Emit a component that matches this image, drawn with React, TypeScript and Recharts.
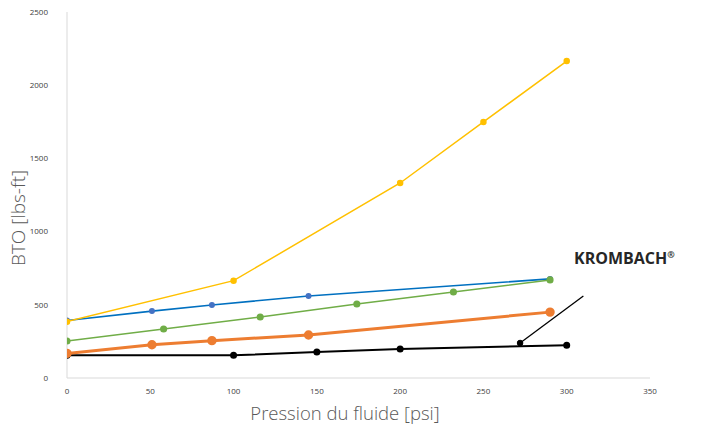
import React from "react";
import { LineChart, Line, XAxis, YAxis, ReferenceLine, ReferenceDot, Label } from "recharts";

const xTicks = [0, 50, 100, 150, 200, 250, 300, 350];
const yTicks = [0, 500, 1000, 1500, 2000, 2500];

const xYellow = [0, 100, 200, 250, 300];
const yYellow = [385, 665, 1332, 1749, 2165];
const xBlue = [0, 51, 87, 145, 290];
const yBlue = [393, 457, 499, 560, 677];
const xGreen = [0, 58, 116, 174, 232, 290];
const yGreen = [253, 335, 417, 505, 587, 670];
const xOrange = [0, 51, 87, 145, 290];
const yOrange = [168, 227, 255, 294, 450];
const xBlack = [0, 100, 150, 200, 300];
const yBlack = [155, 155, 178, 198, 224];

const brandLabel = "KROMBACH";
const pointerStart = { x: 272, y: 239 };
const pointerEnd = { x: 310, y: 560 };

const zip = (xs: number[], ys: number[]) => xs.map((x, i) => ({ x, y: ys[i] }));

const FONT = "'Open Sans', 'Noto Sans', sans-serif";

export default function App() {
  return (
    <div style={{ position: "absolute", left: 0, top: 0, width: 706, height: 427, background: "#fff" }}>
      <LineChart width={706} height={427} margin={{ top: 12, right: 56, bottom: 0, left: 0 }}>
        <XAxis
          type="number"
          dataKey="x"
          domain={[0, 350]}
          ticks={xTicks}
          allowDataOverflow
          height={49}
          tickLine={false}
          tickSize={0}
          tickMargin={10}
          axisLine={{ stroke: "#d9d9d9", strokeWidth: 1 }}
          tick={{ fontSize: 8, fill: "#404040", fontFamily: FONT }}
        >
          <Label
            content={() => (
              <text x={345} y={420} textAnchor="middle" fontSize={18.5} fill="#595959" fontFamily={FONT} fontWeight={300}>
                Pression du fluide [psi]
              </text>
            )}
          />
        </XAxis>
        <YAxis
          type="number"
          domain={[0, 2500]}
          ticks={yTicks}
          width={67}
          tickLine={false}
          tickSize={0}
          tickMargin={19}
          axisLine={{ stroke: "#d9d9d9", strokeWidth: 1 }}
          tick={{ fontSize: 8, fill: "#404040", fontFamily: FONT }}
        >
          <Label
            content={() => (
              <text
                x={18}
                y={218}
                transform="rotate(-90 18 218)"
                textAnchor="middle"
                dominantBaseline="central"
                fontSize={19}
                fill="#595959"
                fontFamily={FONT}
                fontWeight={300}
              >
                BTO [lbs-ft]
              </text>
            )}
          />
        </YAxis>
        <Line data={zip(xBlack, yBlack)} dataKey="y" stroke="#000000" strokeWidth={2} dot={{ r: 2.5, fill: "#000", stroke: "#000" }} isAnimationActive={false} />
        <Line data={zip(xOrange, yOrange)} dataKey="y" stroke="#ED7D31" strokeWidth={3} dot={{ r: 3.2, fill: "#ED7D31", stroke: "#ED7D31" }} isAnimationActive={false} />
        <Line data={zip(xBlue, yBlue)} dataKey="y" stroke="#0070C0" strokeWidth={1.6} dot={{ r: 2.2, fill: "#4472C4", stroke: "#4472C4" }} isAnimationActive={false} />
        <Line data={zip(xGreen, yGreen)} dataKey="y" stroke="#70AD47" strokeWidth={1.5} dot={{ r: 2.8, fill: "#70AD47", stroke: "#70AD47" }} isAnimationActive={false} />
        <Line data={zip(xYellow, yYellow)} dataKey="y" stroke="#FFC000" strokeWidth={1.5} dot={{ r: 2.5, fill: "#FFC000", stroke: "#FFC000" }} isAnimationActive={false} />
        <ReferenceLine
          segment={[pointerStart, pointerEnd]}
          stroke="#000"
          strokeWidth={1.3}
          ifOverflow="visible"
        />
        <ReferenceDot x={pointerStart.x} y={pointerStart.y} r={2.8} fill="#000" stroke="#000" ifOverflow="visible" />
      </LineChart>
      <div
        style={{
          position: "absolute",
          left: 574,
          top: 244,
          fontFamily: FONT,
          fontWeight: 700,
          fontSize: 16,
          color: "#262626",
          whiteSpace: "nowrap",
          lineHeight: "22px",
        }}
      >
        {brandLabel}
        <sup style={{ fontSize: 9 }}>®</sup>
      </div>
    </div>
  );
}
